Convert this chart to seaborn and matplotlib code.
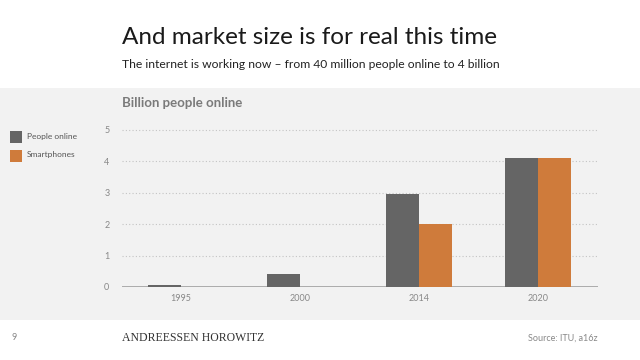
import pandas as pd
import seaborn as sns
import matplotlib.pyplot as plt
from matplotlib.patches import Rectangle

# Chart data
years = ['1995', '2000', '2014', '2020']
people_online = [0.06, 0.42, 2.95, 4.1]
smartphones = [0.0, 0.0, 2.0, 4.1]
series_names = ['People online', 'Smartphones']
y_ticks = [0, 1, 2, 3, 4, 5]

df = pd.DataFrame({
    'year': years * 2,
    'value': people_online + smartphones,
    'series': [series_names[0]] * len(years) + [series_names[1]] * len(years),
})

sns.set_theme(style='white')
plt.rcParams['font.family'] = ['Lato', 'DejaVu Sans']

dark = '#656565'
orange = '#cf7b3b'
band = '#f2f2f2'

fig = plt.figure(figsize=(6.4, 3.6), dpi=100)
fig.patch.set_facecolor('white')

# Gray band behind the chart
fig.patches.append(Rectangle((0, 40 / 360), 1, 232 / 360, transform=fig.transFigure,
                             facecolor=band, edgecolor='none', zorder=-10))

ax = fig.add_axes([122 / 640, 1 - 287 / 360, 476 / 640, 158.6 / 360])
ax.set_facecolor(band)

sns.barplot(data=df, x='year', y='value', hue='series', palette=[dark, orange],
            width=0.56, saturation=1, linewidth=0, ax=ax, legend=False)

ax.set_xlim(-0.496, 3.504)
ax.set_ylim(0, 5.05)
ax.set_yticks(y_ticks)
ax.set_xlabel('')
ax.set_ylabel('')
for y in y_ticks[1:]:
    ax.axhline(y, color='#c4c4c4', lw=0.8, ls=(0, (1, 2)), zorder=0)
ax.axhline(0, color='#a0a0a0', lw=1.2, zorder=0.5)
for s in ax.spines.values():
    s.set_visible(False)
ax.tick_params(axis='both', length=0, labelsize=6.5, labelcolor='#888888')
ax.tick_params(axis='y', pad=9)
ax.tick_params(axis='x', pad=5)

# Titles
fig.text(122 / 640, 1 - 38 / 360, 'And market size is for real this time',
         fontsize=17.5, color='#1a1a1a', va='center', ha='left')
fig.text(122 / 640, 1 - 64 / 360,
         'The internet is working now \u2013 from 40 million people online to 4 billion',
         fontsize=8.7, color='#222222', va='center', ha='left')
fig.text(122 / 640, 1 - 103 / 360, 'Billion people online', fontsize=9.5,
         fontweight='bold', color='#7a7a7a', va='center', ha='left')

# Legend at left
for i, (name, col) in enumerate(zip(series_names, [dark, orange])):
    yc = 137 + i * 18.5
    fig.patches.append(Rectangle((10 / 640, 1 - (yc + 6) / 360), 12 / 640, 12 / 360,
                                 transform=fig.transFigure, facecolor=col,
                                 edgecolor='none', zorder=2))
    fig.text(27 / 640, 1 - (yc - 1) / 360, name, fontsize=6, color='#555555',
             va='center', ha='left')

# Footer
fig.text(12 / 640, 1 - 338 / 360, '9', fontsize=6.5, color='#888888', va='center')
fig.text(122 / 640, 1 - 338 / 360, 'ANDREESSEN HOROWITZ', fontsize=8.5,
         family=['Liberation Serif', 'DejaVu Serif'], color='#333333', va='center')
fig.text(598 / 640, 1 - 338 / 360, 'Source: ITU, a16z', fontsize=6.5,
         color='#888888', va='center', ha='right')

fig.savefig('out.png', dpi=100, facecolor=fig.get_facecolor())
